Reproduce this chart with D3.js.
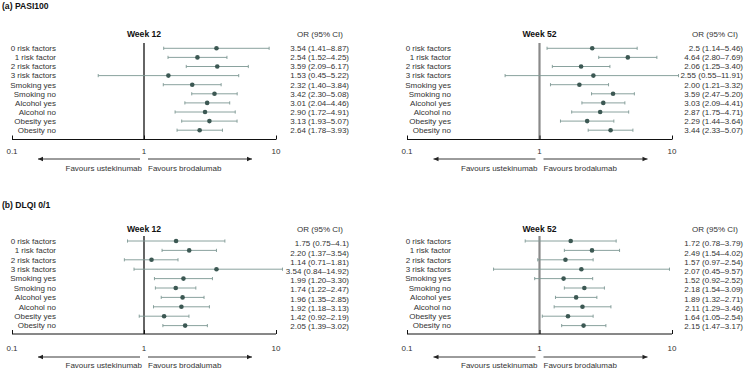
<!DOCTYPE html>
<html>
<head>
<meta charset="utf-8">
<script src="https://cdn.jsdelivr.net/npm/d3@7"></script>
<style>
  body { margin: 0; background: #fff; }
  svg { font-family: "Liberation Sans", Arial, sans-serif; }
  .lbl { font-size: 8px; fill: #333; }
  .ttl { font-size: 8.6px; font-weight: bold; fill: #111; }
</style>
</head>
<body>
<div id="chart"></div>
<script>
// Subgroups (same for every panel)
const subgroups = ["0 risk factors", "1 risk factor", "2 risk factors", "3 risk factors",
  "Smoking yes", "Smoking no", "Alcohol yes", "Alcohol no", "Obesity yes", "Obesity no"];
const tickValues = [0.1, 1, 10];

// (a) PASI100 - week 12
const pasiW12Or = ["3.54", "2.54", "3.59", "1.53", "2.32", "3.42", "3.01", "2.90", "3.13", "2.64"];
const pasiW12Lo = ["1.41", "1.52", "2.09", "0.45", "1.40", "2.30", "2.04", "1.72", "1.93", "1.78"];
const pasiW12Hi = ["8.87", "4.25", "6.17", "5.22", "3.84", "5.08", "4.46", "4.91", "5.07", "3.93"];
// (a) PASI100 - week 52
const pasiW52Or = ["2.5", "4.64", "2.06", "2.55", "2.00", "3.59", "3.03", "2.87", "2.29", "3.44"];
const pasiW52Lo = ["1.14", "2.80", "1.25", "0.55", "1.21", "2.47", "2.09", "1.75", "1.44", "2.33"];
const pasiW52Hi = ["5.46", "7.69", "3.40", "11.91", "3.32", "5.20", "4.41", "4.71", "3.64", "5.07"];
// (b) DLQI 0/1 - week 12
const dlqiW12Or = ["1.75", "2.20", "1.14", "3.54", "1.99", "1.74", "1.96", "1.92", "1.42", "2.05"];
const dlqiW12Lo = ["0.75", "1.37", "0.71", "0.84", "1.20", "1.22", "1.35", "1.18", "0.92", "1.39"];
const dlqiW12Hi = ["4.1", "3.54", "1.81", "14.92", "3.30", "2.47", "2.85", "3.13", "2.19", "3.02"];
// (b) DLQI 0/1 - week 52
const dlqiW52Or = ["1.72", "2.49", "1.57", "2.07", "1.52", "2.18", "1.89", "2.11", "1.64", "2.15"];
const dlqiW52Lo = ["0.78", "1.54", "0.97", "0.45", "0.92", "1.54", "1.32", "1.29", "1.05", "1.47"];
const dlqiW52Hi = ["3.79", "4.02", "2.54", "9.57", "2.52", "3.09", "2.71", "3.46", "2.54", "3.17"];

const W = 746, H = 370;
const pointCol = "#3c5853", ciCol = "#7d9793";

const svg = d3.select("#chart").append("svg").attr("width", W).attr("height", H);

// Panel headings
svg.append("text").attr("class", "ttl").attr("x", 2).attr("y", 9).text("(a) PASI100");
svg.append("text").attr("class", "ttl").attr("x", 2).attr("y", 208).text("(b) DLQI 0/1");

// Layout for each of the two panel rows
const rowsA = { titleY: 37, rowY0: 48.3, rowStep: 9.1, valY0: 48.3, valStep: 9.1, lineTop: 43, axisY: 139.5, tickLblY: 151, arrowY: 159, favY: 168.5 };
const rowsB = { titleY: 232, rowY0: 241, rowStep: 9.4, valY0: 243.5, valStep: 9.2, lineTop: 236, axisY: 334, tickLblY: 348.5, arrowY: 357, favY: 365.5 };
// Layout for the two columns
const colL = { x0: 12, x1: 276, lblX: 56, valX: 349, hdrX: 320, refCol: "#111", refW: 1.3 };
const colR = { x0: 407, x1: 672, lblX: 451, valX: 743, hdrX: 715, refCol: "#8a8a8a", refW: 2.2 };

drawForest(rowsA, colL, "Week 12", pasiW12Or, pasiW12Lo, pasiW12Hi);
drawForest(rowsA, colR, "Week 52", pasiW52Or, pasiW52Lo, pasiW52Hi);
drawForest(rowsB, colL, "Week 12", dlqiW12Or, dlqiW12Lo, dlqiW12Hi);
drawForest(rowsB, colR, "Week 52", dlqiW52Or, dlqiW52Lo, dlqiW52Hi);

// Render one forest plot
function drawForest(r, c, title, or, lo, hi) {
  const g = svg.append("g");
  const x = d3.scaleLog().domain([0.1, 10]).range([c.x0, c.x1]);
  const y = (i) => r.rowY0 + i * r.rowStep;
  // upper CI lines are cut short before they run into the value column
  const xHi = (v) => Math.min(x(+v), x(11.2));

  // Week title & column header
  g.append("text").attr("class", "ttl").attr("x", x(1)).attr("y", r.titleY)
    .attr("text-anchor", "middle").text(title);
  g.append("text").attr("class", "lbl").attr("x", c.hdrX).attr("y", r.titleY)
    .attr("text-anchor", "middle").text("OR (95% CI)");

  // Reference line at OR = 1
  g.append("line").attr("x1", x(1)).attr("x2", x(1)).attr("y1", r.lineTop).attr("y2", r.axisY)
    .attr("stroke", c.refCol).attr("stroke-width", c.refW);

  // Axis
  const axis = d3.axisTop(x).tickValues(tickValues).tickSize(4).tickFormat(d3.format("~g"));
  const ax = g.append("g").attr("transform", "translate(0," + r.axisY + ")").call(axis);
  ax.select(".domain").attr("stroke", "#111").attr("d", "M" + x(0.1) + ",0H" + x(10));
  ax.selectAll(".tick line").attr("stroke", "#111");
  ax.selectAll(".tick text").remove();
  g.selectAll(".ticklbl").data(tickValues).enter().append("text").attr("class", "lbl")
    .attr("x", (d) => x(d)).attr("y", r.tickLblY).attr("dy", "0.35em").attr("text-anchor", "middle")
    .text((d) => d3.format("~g")(d));

  // Favours arrows
  const arrow = (xa, xb) => {
    g.append("line").attr("x1", xa).attr("x2", xb).attr("y1", r.arrowY).attr("y2", r.arrowY)
      .attr("stroke", "#222").attr("stroke-width", 0.9);
    const dir = xb < xa ? 1 : -1;
    g.append("path").attr("fill", "#222")
      .attr("d", "M" + xb + "," + r.arrowY + "l" + (5 * dir) + ",-2.2v4.4z");
  };
  arrow(x(1) - 4, x(1) - 106);
  arrow(x(1) + 4, x(1) + 108);
  g.append("text").attr("class", "lbl").attr("x", x(1) - 2).attr("y", r.favY).attr("dy", "0.35em")
    .attr("text-anchor", "end").text("Favours ustekinumab");
  g.append("text").attr("class", "lbl").attr("x", x(1) + 4).attr("y", r.favY).attr("dy", "0.35em")
    .text("Favours brodalumab");

  // Subgroup labels
  g.selectAll(".sub").data(subgroups).enter().append("text").attr("class", "lbl")
    .attr("x", c.lblX).attr("y", (d, i) => y(i)).attr("dy", "0.35em").attr("text-anchor", "end")
    .text((d) => d);

  // CI lines, caps & points
  g.selectAll(".ci").data(or).enter().append("line")
    .attr("x1", (d, i) => x(+lo[i])).attr("x2", (d, i) => xHi(hi[i]))
    .attr("y1", (d, i) => y(i)).attr("y2", (d, i) => y(i))
    .attr("stroke", ciCol).attr("stroke-width", 0.9);
  g.selectAll(".capL").data(or).enter().append("line")
    .attr("x1", (d, i) => x(+lo[i])).attr("x2", (d, i) => x(+lo[i]))
    .attr("y1", (d, i) => y(i) - 1.6).attr("y2", (d, i) => y(i) + 1.6)
    .attr("stroke", ciCol).attr("stroke-width", 0.9);
  g.selectAll(".capR").data(or).enter().append("line")
    .attr("x1", (d, i) => xHi(hi[i])).attr("x2", (d, i) => xHi(hi[i]))
    .attr("y1", (d, i) => y(i) - 1.6).attr("y2", (d, i) => y(i) + 1.6)
    .attr("stroke", ciCol).attr("stroke-width", 0.9);
  g.selectAll(".pt").data(or).enter().append("circle")
    .attr("cx", (d) => x(+d)).attr("cy", (d, i) => y(i)).attr("r", 2.3).attr("fill", pointCol);

  // OR (95% CI) text column
  g.selectAll(".val").data(or).enter().append("text").attr("class", "lbl")
    .attr("x", c.valX).attr("y", (d, i) => r.valY0 + i * r.valStep).attr("dy", "0.35em")
    .attr("text-anchor", "end").text((d, i) => d + " (" + lo[i] + "\u2013" + hi[i] + ")");
}
</script>
</body>
</html>
